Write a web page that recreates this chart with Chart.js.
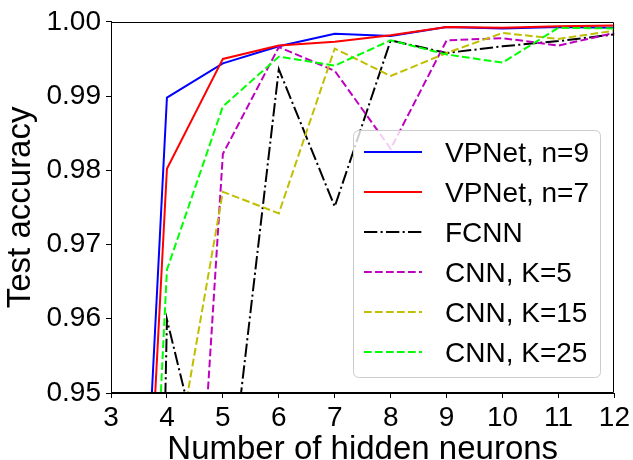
<!DOCTYPE html>
<html><head><meta charset="utf-8">
<script src="https://cdn.jsdelivr.net/npm/chart.js@4.4.1/dist/chart.umd.min.js"></script>
<style>html,body{margin:0;padding:0;background:#fff;}</style>
</head><body>
<canvas id="c" width="633" height="460"></canvas>
<script>
// ---- data ----
const hiddenNeurons = [3, 4, 5, 6, 7, 8, 9, 10, 11, 12];
const vpnetN9 = [0.842, 0.9898, 0.9944, 0.9967, 0.9984, 0.9981, 0.9993, 0.9991, 0.9993, 0.9992];
const vpnetN7 = [0.836, 0.9802, 0.9950, 0.9968, 0.9973, 0.9982, 0.9993, 0.9992, 0.9994, 0.9995];
const fcnn    = [0.600, 0.9599, 0.9290, 0.9936, 0.9751, 0.9975, 0.9958, 0.9967, 0.9974, 0.9983];
const cnnK5   = [0.800, 0.8630, 0.9822, 0.9966, 0.9934, 0.9829, 0.9975, 0.9978, 0.9968, 0.9985];
const cnnK15  = [0.800, 0.9340, 0.9771, 0.9742, 0.9964, 0.9927, 0.9958, 0.9985, 0.9977, 0.9988];
const cnnK25  = [0.814, 0.9666, 0.9886, 0.9953, 0.9941, 0.9975, 0.9956, 0.9945, 0.9992, 0.9991];
const seriesLabels = ['VPNet, n=9', 'VPNet, n=7', 'FCNN', 'CNN, K=5', 'CNN, K=15', 'CNN, K=25'];
const xTickValues = [3, 4, 5, 6, 7, 8, 9, 10, 11, 12];
const yTickValues = [0.95, 0.96, 0.97, 0.98, 0.99, 1.00];
const xTitle = 'Number of hidden neurons';
const yTitle = 'Test accuracy';

const FONT = '"Liberation Sans", Arial, sans-serif';
const seriesValues = [vpnetN9, vpnetN7, fcnn, cnnK5, cnnK15, cnnK25];
const seriesStyle = [
  {color: '#0000ff', dash: []},
  {color: '#ff0000', dash: []},
  {color: '#000000', dash: [13.3, 3.3, 2.1, 3.3]},
  {color: '#bf00bf', dash: [7.7, 3.3]},
  {color: '#bfbf00', dash: [7.7, 3.3]},
  {color: '#00ff00', dash: [7.7, 3.3]}
];

const datasets = seriesValues.map((vals, i) => ({
  label: seriesLabels[i],
  data: vals.map((v, j) => ({x: hiddenNeurons[j], y: v})),
  borderColor: seriesStyle[i].color,
  backgroundColor: seriesStyle[i].color,
  borderDash: seriesStyle[i].dash,
  borderWidth: 2,
  borderCapStyle: 'butt',
  pointRadius: 0,
  tension: 0,
  fill: false,
  clip: 0,
  order: -i
}));

const framePlugin = {
  id: 'frame',
  afterDatasetsDraw(chart) {
    const {ctx, chartArea: a} = chart;
    ctx.save();
    ctx.strokeStyle = '#000';
    ctx.lineWidth = 1;
    ctx.setLineDash([]);
    ctx.beginPath();
    const l = Math.round(a.left) + 0.5, r = Math.round(a.right) - 0.5;
    const t = Math.round(a.top) + 0.5, b = Math.round(a.bottom) - 0.5;
    ctx.moveTo(l, b); ctx.lineTo(l, t); ctx.lineTo(r, t); ctx.lineTo(r, b); ctx.lineTo(l, b);
    ctx.stroke();
    ctx.restore();
  }
};

const legendPlugin = {
  id: 'boxLegend',
  afterDraw(chart) {
    const ctx = chart.ctx;
    const bx = 353.5, by = 130.5, bw = 247, bh = 247, rad = 6;
    ctx.save();
    ctx.beginPath();
    ctx.moveTo(bx + rad, by);
    ctx.lineTo(bx + bw - rad, by);
    ctx.quadraticCurveTo(bx + bw, by, bx + bw, by + rad);
    ctx.lineTo(bx + bw, by + bh - rad);
    ctx.quadraticCurveTo(bx + bw, by + bh, bx + bw - rad, by + bh);
    ctx.lineTo(bx + rad, by + bh);
    ctx.quadraticCurveTo(bx, by + bh, bx, by + bh - rad);
    ctx.lineTo(bx, by + rad);
    ctx.quadraticCurveTo(bx, by, bx + rad, by);
    ctx.closePath();
    ctx.fillStyle = 'rgba(255,255,255,0.8)';
    ctx.fill();
    ctx.strokeStyle = '#cccccc';
    ctx.lineWidth = 1;
    ctx.stroke();
    chart.data.datasets.forEach((ds, i) => {
      const y = 152 + i * 40;
      ctx.setLineDash(ds.borderDash || []);
      ctx.strokeStyle = ds.borderColor;
      ctx.lineWidth = ds.borderWidth;
      ctx.lineCap = 'butt';
      ctx.beginPath();
      ctx.moveTo(364, y);
      ctx.lineTo(422, y);
      ctx.stroke();
      ctx.setLineDash([]);
      ctx.fillStyle = '#000';
      ctx.font = '28px ' + FONT;
      ctx.textAlign = 'left';
      ctx.textBaseline = 'alphabetic';
      ctx.fillText(ds.label, 445, y + 10);
    });
    ctx.restore();
  }
};

new Chart(document.getElementById('c'), {
  type: 'line',
  data: {datasets},
  options: {
    responsive: false,
    animation: false,
    devicePixelRatio: 1,
    layout: {padding: {top: 19, right: 17, bottom: 0, left: 0}},
    plugins: {legend: {display: false}, tooltip: {enabled: false}},
    scales: {
      x: {
        type: 'linear',
        min: 3, max: 12,
        afterFit(s) { s.height = 67; },
        afterBuildTicks(s) { s.ticks = xTickValues.map(v => ({value: v})); },
        ticks: {color: '#000', font: {family: FONT, size: 28}, padding: 3, maxRotation: 0, autoSkip: false,
                callback: v => String(v)},
        grid: {display: true, drawOnChartArea: false, drawTicks: true, tickLength: 5, color: '#000', lineWidth: 1},
        border: {display: true, color: '#000', width: 1},
        title: {display: true, text: xTitle, color: '#000', font: {family: FONT, size: 33, lineHeight: 0.62}, padding: {top: 0, bottom: 0}}
      },
      y: {
        type: 'linear',
        min: 0.95, max: 1.0,
        afterFit(s) { s.width = 111; },
        afterBuildTicks(s) { s.ticks = yTickValues.map(v => ({value: v})); },
        ticks: {color: '#000', font: {family: FONT, size: 28}, padding: 5, autoSkip: false,
                callback: v => Number(v).toFixed(2)},
        grid: {display: true, drawOnChartArea: false, drawTicks: true, tickLength: 5, color: '#000', lineWidth: 1},
        border: {display: true, color: '#000', width: 1},
        title: {display: true, text: yTitle, color: '#000', font: {family: FONT, size: 33, lineHeight: 1}, padding: {top: 4, bottom: 0}}
      }
    }
  },
  plugins: [framePlugin, legendPlugin]
});
</script>
</body></html>
